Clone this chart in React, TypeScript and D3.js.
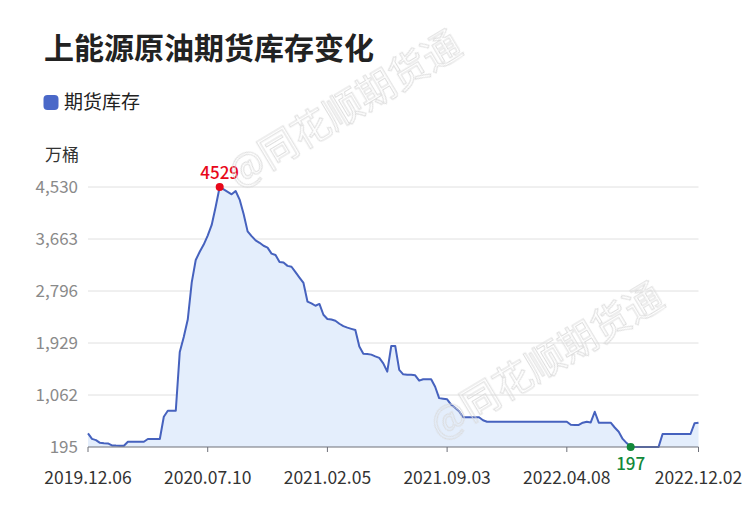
import React from "react";
import * as d3 from "d3";

const title = "上能源原油期货库存变化";
const seriesName = "期货库存";
const unitLabel = "万桶";

const yTicks = [195, 1062, 1929, 2796, 3663, 4530];
const tickIndices = [0, 30, 60, 90, 120, 153];
const tickLabels = ["2019.12.06", "2020.07.10", "2021.02.05", "2021.09.03", "2022.04.08", "2022.12.02"];

const inventory = [
  423, 330, 310, 265, 258, 255, 222, 218, 217, 217,
  283, 283, 283, 283, 283, 328, 328, 328, 328, 700,
  800, 800, 800, 1780, 2030, 2320, 2940, 3313, 3450, 3570,
  3720, 3897, 4200, 4529, 4490, 4450, 4408, 4463, 4320, 4080,
  3790, 3710, 3640, 3600, 3550, 3520, 3420, 3396, 3280, 3270,
  3215, 3200, 3110, 3020, 2930, 2620, 2590, 2550, 2580, 2400,
  2330, 2320, 2300, 2250, 2210, 2185, 2165, 2146, 1870, 1750,
  1745, 1735, 1705, 1680, 1590, 1451, 1879, 1879, 1480, 1407,
  1400, 1398, 1390, 1301, 1324, 1324, 1324, 1200, 1010, 1000,
  990, 900, 850, 790, 690, 690, 690, 690, 690, 640,
  617, 617, 617, 617, 617, 617, 617, 617, 617, 617,
  617, 617, 617, 617, 617, 617, 617, 617, 617, 617,
  617, 565, 562, 562, 600, 617, 605, 783, 600, 600,
  600, 600, 520, 450, 330, 260, 197, 197, 197, 197,
  197, 197, 197, 197, 412, 412, 412, 412, 412, 412,
  412, 412, 590, 600,
];

const FONT = "'Noto Sans CJK SC', 'Noto Sans', sans-serif";

export default function App() {
  const W = 750, H = 510;
  const left = 88, right = 698.5, top = 187, bottom = 447;
  const x = d3.scaleLinear().domain([0, inventory.length - 1]).range([left, right]);
  const y = d3.scaleLinear().domain([195, 4530]).range([bottom, top]);
  const fmt = d3.format(",");

  const line = d3.line<number>().x((_, i) => x(i)).y((d) => y(d)).curve(d3.curveLinear);
  const area = d3.area<number>().x((_, i) => x(i)).y0(bottom).y1((d) => y(d)).curve(d3.curveLinear);

  const maxI = d3.maxIndex(inventory);
  const minI = d3.minIndex(inventory);

  const wm = "@同花顺期货通";

  return (
    <svg width={W} height={H} style={{ position: "absolute", left: 0, top: 0, background: "#fff" }} fontFamily={FONT}>
      <rect width={W} height={H} fill="#fff" />
      <text x={44} y={59} fontSize={30} fontWeight="bold" fill="#222">{title}</text>

      <rect x={43.5} y={95} width={15} height={15} rx={4} fill="#4A68C8" />
      <text x={64} y={109} fontSize={19} fill="#222">{seriesName}</text>

      <text x={62} y={161} fontSize={17} fill="#333" textAnchor="middle">{unitLabel}</text>

      {yTicks.map((t) => (
        <g key={t}>
          {t !== 195 && <line x1={left} x2={right} y1={y(t)} y2={y(t)} stroke="#E0E0E0" strokeWidth={1} />}
          <text x={78} y={y(t)} dy="0.36em" fontSize={17} fill="#8A8A8A" textAnchor="end">{fmt(t)}</text>
        </g>
      ))}

      <path d={area(inventory) || ""} fill="#E4EEFC" />
      <path d={line(inventory) || ""} fill="none" stroke="#4662BE" strokeWidth={2} strokeLinejoin="round" />

      <line x1={left} x2={right} y1={bottom} y2={bottom} stroke="#6E7079" strokeWidth={1} />
      {tickIndices.map((ti, k) => (
        <g key={ti}>
          <line x1={x(ti)} x2={x(ti)} y1={bottom} y2={bottom + 5} stroke="#6E7079" strokeWidth={1} />
          <text x={x(ti)} y={484} fontSize={17.5} fill="#333" textAnchor="middle">{tickLabels[k]}</text>
        </g>
      ))}

      <circle cx={x(maxI)} cy={y(inventory[maxI])} r={4} fill="#E8071A" />
      <text x={x(maxI)} y={y(inventory[maxI]) - 8} fontSize={17} fontWeight={500} fill="#E8071A" textAnchor="middle">{inventory[maxI]}</text>

      <circle cx={x(minI)} cy={y(inventory[minI])} r={4} fill="#13893A" />
      <text x={x(minI)} y={y(inventory[minI]) + 23} fontSize={17} fontWeight={500} fill="#13893A" textAnchor="middle">{inventory[minI]}</text>

      <g opacity={0.9}>
        <text x={238} y={188} fontSize={38} fill="none" stroke="#DADADA" strokeWidth={1} transform="rotate(-31 238 188)">{wm}</text>
        <text x={440} y={440} fontSize={38} fill="none" stroke="#DADADA" strokeWidth={1} transform="rotate(-31 440 440)">{wm}</text>
      </g>
    </svg>
  );
}
